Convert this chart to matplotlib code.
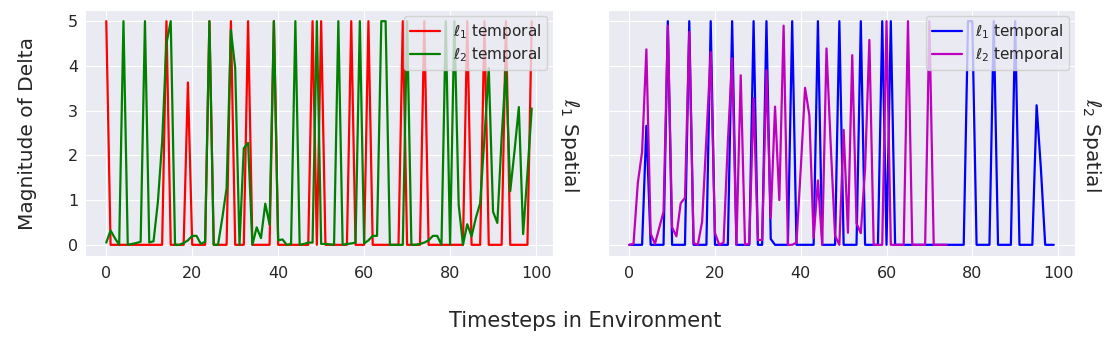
import numpy as np
import matplotlib
matplotlib.use("Agg")
import matplotlib.pyplot as plt
import seaborn as sns

sns.set_style("darkgrid")
plt.rcParams['font.family'] = ['DejaVu Sans']

# ---- data ----
timesteps = list(range(100))

red_l1 = [5, 0, 0, 0, 0, 0, 0, 0, 0, 0,
          0, 0, 0, 0, 5, 0, 0, 0, 0, 3.63,
          0, 0, 0, 0, 5, 0, 0, 0, 0, 5,
          0, 0, 0, 5, 0, 0, 0, 0, 0, 5,
          0, 0, 0, 0, 0, 0, 0, 0, 5, 0,
          5, 0, 0, 0, 0, 0, 0, 5, 0, 0,
          0, 5, 0, 0, 0, 0, 0, 0, 0, 5,
          0, 0, 0, 0, 5, 0, 0, 0, 0, 0,
          0, 0, 0, 0, 5, 0, 0, 0, 5, 0,
          0, 0, 0, 5, 0, 0, 0, 0, 0, 5]

green_l2 = [0.05, 0.32, 0.15, 0.0, 5, 0.0, 0.02, 0.04, 0.07, 5,
            0.05, 0.08, 0.95, 2.3, 4.5, 5, 0, 0, 0.04, 0.1,
            0.2, 0.2, 0.02, 0.07, 5, 0, 0, 0.6, 1.27, 4.8,
            3.95, 0, 2.16, 2.28, 0, 0.39, 0.15, 0.92, 0.45, 5,
            0.1, 0.12, 0.0, 0.02, 5, 0, 0.02, 0.05, 0.05, 5,
            0.02, 0.02, 0.01, 0.0, 5, 0, 0.02, 0.03, 0.05, 5,
            0.03, 0.1, 0.2, 0.2, 5, 5, 0, 0, 0, 0.0,
            5, 0, 0, 0.02, 0.05, 0.1, 0.2, 0.2, 0, 5,
            0, 5, 0.9, 0, 0.46, 0.19, 0.6, 0.93, 2.4, 3.95,
            0.74, 0.49, 2.4, 3.95, 1.2, 2.1, 3.08, 0.24, 1.6, 3.05]

blue_l1 = [0, 0, 0, 0, 2.66, 0, 0, 0, 0, 5,
           0, 0, 0, 0, 5, 0, 0, 0, 0, 5,
           0, 0, 0, 0, 5, 0, 0, 0, 0, 5,
           0, 0, 5, 0.13, 0, 0, 0, 0, 5, 0,
           0, 0, 0, 0, 5, 0, 0, 0, 0, 5,
           0, 0, 0, 0, 5, 0, 0, 0, 0, 5,
           0, 5, 0, 0, 0, 0, 0, 0, 0, 0,
           0, 0, 0, 0, 0, 0, 0, 0, 0, 5,
           5, 0, 0, 0, 0, 5, 0, 0, 0, 0,
           5, 0, 0, 0, 0, 3.12, 1.7, 0, 0, 0]

magenta_l2 = [0, 0.02, 1.38, 2.08, 4.37, 0.25, 0.02, 0.38, 0.74, 4.9,
              0.39, 0.19, 0.93, 1.05, 4.76, 0.04, 0, 0.52, 2.4, 4.31,
              0.26, 0, 0.05, 2.3, 4.17, 0, 3.79, 0, 0.03, 3.28,
              0.11, 0.11, 3.9, 0.6, 3.09, 1.0, 4.9, 0, 0, 0.05,
              1.7, 3.51, 2.9, 0.15, 1.44, 0, 4.39, 2.2, 0.2, 0,
              2.57, 0.27, 4.24, 0.48, 0.26, 1.7, 4.58, 0, 0, 0,
              5, 0, 0, 0, 0, 5, 0, 0, 0, 0,
              5, 0, 0, 0, 0]

legend_labels = [r'$\ell_1$ temporal', r'$\ell_2$ temporal']
row_titles = [r'$\ell_1$ Spatial', r'$\ell_2$ Spatial']
xticks = [0, 20, 40, 60, 80, 100]
yticks = [0, 1, 2, 3, 4, 5]

W, H = 1116, 349
fig = plt.figure(figsize=(W / 100, H / 100), dpi=100)

def px_axes(l, r, t, b):
    return [l / W, 1 - b / H, (r - l) / W, (b - t) / H]

ax1 = fig.add_axes(px_axes(85, 553, 10, 256))
ax2 = fig.add_axes(px_axes(608, 1075, 10, 256), sharey=ax1)

panels = [
    (ax1, red_l1, green_l2, 'r', 'g', row_titles[0]),
    (ax2, blue_l1, magenta_l2, 'b', 'm', row_titles[1]),
]
for ax, s1, s2, c1, c2, title in panels:
    ax.plot(timesteps[:len(s1)], s1, color=c1, lw=1.6, label=legend_labels[0])
    ax.plot(timesteps[:len(s2)], s2, color=c2, lw=1.6, label=legend_labels[1])
    ax.set_xticks(xticks)
    ax.set_yticks(yticks)
    ax.tick_params(labelsize=11.5)
    ax.tick_params(axis='y', pad=1.5)
    ax.legend(loc='upper right', fontsize=11, handlelength=2.0,
              borderaxespad=0.4, labelspacing=0.25)
    ax.text(1.035, 0.45, title, transform=ax.transAxes, rotation=270,
            ha='center', va='center', fontsize=14.5)

ax2.tick_params(labelleft=False)
ax1.set_ylabel('Magnitude of Delta', fontsize=14.5, labelpad=22)
fig.text(585 / W, 1 - 321 / H, 'Timesteps in Environment', ha='center',
         va='center', fontsize=15)

fig.savefig('out.png', dpi=100)
